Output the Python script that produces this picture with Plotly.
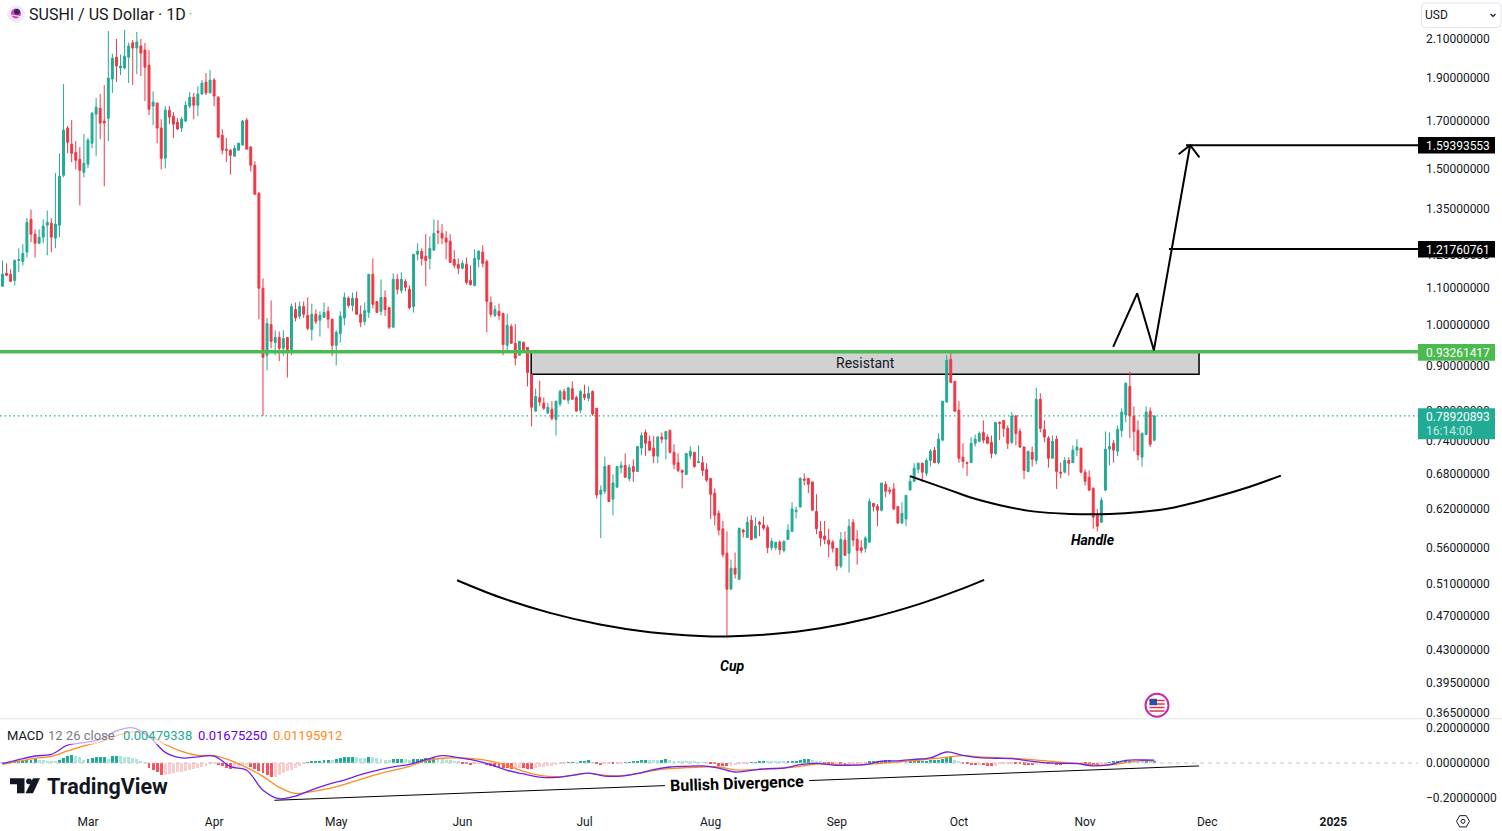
import math
import pandas as pd
import plotly.graph_objects as go

first_day = "2024-02-09"

opens = [
1.095,1.133,1.130,1.112,1.172,1.169,1.198,1.306,1.256,1.226,
1.246,1.286,1.293,1.243,1.286,1.467,1.661,1.592,1.558,1.530,
1.478,1.510,1.596,1.723,1.750,1.692,1.705,1.890,2.002,1.946,
1.946,2.002,2.079,2.051,2.062,2.040,1.960,1.760,1.774,1.661,
1.534,1.741,1.714,1.687,1.661,1.692,1.760,1.802,1.764,1.817,
1.875,1.822,1.885,1.802,1.630,1.571,1.567,1.542,1.567,1.588,
1.696,1.580,1.506,1.399,1.089,0.913,0.990,0.944,0.957,0.930,
0.957,0.923,1.030,1.012,1.038,1.014,0.977,1.017,1.001,1.009,
1.025,1.004,0.937,0.967,1.007,1.061,1.041,1.061,1.017,0.998,
1.022,1.130,1.052,1.025,1.063,1.035,0.983,1.115,1.083,1.109,
1.086,1.038,1.191,1.201,1.185,1.178,1.204,1.266,1.259,1.243,
1.233,1.175,1.160,1.148,1.160,1.112,1.097,1.175,1.198,1.169,
1.049,1.014,1.025,1.019,0.937,0.985,0.942,0.913,0.944,0.932,
0.868,0.788,0.817,0.805,0.784,0.792,0.771,0.803,0.830,0.811,
0.836,0.817,0.790,0.824,0.815,0.830,0.794,0.633,0.638,0.683,
0.625,0.645,0.679,0.683,0.660,0.681,0.672,0.715,0.745,0.728,
0.715,0.700,0.736,0.732,0.749,0.707,0.688,0.674,0.667,0.700,
0.707,0.688,0.688,0.676,0.660,0.635,0.602,0.578,0.542,0.493,
0.521,0.506,0.576,0.565,0.591,0.564,0.588,0.584,0.580,0.550,
0.550,0.558,0.546,0.562,0.574,0.605,0.612,0.659,0.660,0.654,
0.605,0.574,0.567,0.561,0.558,0.549,0.524,0.561,0.542,0.588,
0.562,0.550,0.549,0.558,0.618,0.613,0.607,0.650,0.640,0.642,
0.613,0.587,0.593,0.640,0.655,0.676,0.687,0.669,0.692,0.711,
0.688,0.730,0.807,0.903,0.852,0.790,0.698,0.688,0.688,0.724,
0.728,0.745,0.736,0.726,0.705,0.765,0.769,0.753,0.726,0.778,
0.747,0.717,0.672,0.707,0.692,0.813,0.751,0.734,0.696,0.732,
0.671,0.671,0.692,0.688,0.711,0.715,0.671,0.662,0.643,0.599,
0.588,0.640,0.713,0.724,0.709,0.749,0.780,0.841,0.778,0.749,
0.698,0.741,0.788,0.730]

highs = [
1.172,1.163,1.145,1.175,1.210,1.223,1.310,1.340,1.272,1.272,
1.306,1.337,1.310,1.475,1.554,1.865,1.670,1.696,1.605,1.580,
1.635,1.618,1.732,1.798,1.817,1.860,2.145,2.020,2.100,2.015,
2.151,2.080,2.095,2.140,2.100,2.079,2.040,1.830,1.774,1.700,
1.760,1.760,1.732,1.705,1.710,1.783,1.826,1.822,1.855,1.885,
1.920,1.935,1.895,1.807,1.657,1.618,1.571,1.588,1.596,1.696,
1.705,1.584,1.522,1.403,1.118,1.007,1.055,0.975,0.972,0.975,
0.957,1.046,1.049,1.052,1.052,1.063,1.046,1.030,1.025,1.049,
1.038,1.004,0.975,1.025,1.077,1.066,1.077,1.080,1.041,1.049,
1.130,1.178,1.052,1.115,1.083,1.038,1.133,1.130,1.136,1.115,
1.097,1.191,1.226,1.210,1.256,1.249,1.306,1.303,1.290,1.266,
1.256,1.204,1.178,1.172,1.181,1.157,1.207,1.204,1.220,1.175,
1.066,1.041,1.046,1.022,1.019,0.991,0.991,0.947,0.947,0.932,
0.868,0.836,0.854,0.817,0.805,0.809,0.809,0.834,0.836,0.838,
0.852,0.821,0.834,0.845,0.841,0.832,0.794,0.648,0.699,0.683,
0.667,0.681,0.690,0.705,0.685,0.694,0.718,0.745,0.751,0.739,
0.738,0.738,0.745,0.747,0.751,0.722,0.705,0.676,0.705,0.718,
0.707,0.720,0.700,0.687,0.660,0.643,0.607,0.590,0.574,0.533,
0.543,0.579,0.578,0.597,0.599,0.596,0.590,0.597,0.584,0.564,
0.558,0.561,0.561,0.585,0.620,0.613,0.662,0.669,0.660,0.654,
0.633,0.590,0.590,0.578,0.561,0.549,0.573,0.574,0.593,0.593,
0.576,0.561,0.567,0.626,0.618,0.617,0.652,0.655,0.645,0.652,
0.613,0.620,0.631,0.665,0.687,0.688,0.688,0.696,0.713,0.717,
0.743,0.809,0.913,0.918,0.854,0.809,0.724,0.690,0.736,0.741,
0.747,0.769,0.741,0.739,0.765,0.767,0.769,0.759,0.786,0.780,
0.753,0.718,0.709,0.718,0.838,0.826,0.769,0.738,0.739,0.739,
0.688,0.698,0.698,0.720,0.732,0.715,0.676,0.674,0.645,0.609,
0.628,0.747,0.745,0.730,0.759,0.794,0.850,0.875,0.798,0.769,
0.745,0.798,0.796,0.780]

lows = [
1.095,1.124,1.109,1.097,1.136,1.157,1.181,1.230,1.181,1.226,
1.226,1.188,1.198,1.210,1.246,1.459,1.554,1.518,1.490,1.355,
1.459,1.494,1.575,1.542,1.613,1.425,1.605,1.822,1.875,1.910,
1.940,1.870,1.860,1.915,1.905,1.783,1.719,1.674,1.596,1.490,
1.494,1.678,1.618,1.652,1.644,1.687,1.750,1.700,1.714,1.812,
1.812,1.822,1.760,1.618,1.550,1.518,1.470,1.542,1.567,1.588,
1.571,1.482,1.395,1.004,0.778,0.877,0.930,0.913,0.899,0.911,
0.861,0.913,0.998,1.004,1.007,0.975,0.949,0.991,0.959,1.009,
0.980,0.911,0.889,0.944,0.988,1.035,1.025,1.017,0.983,0.988,
1.007,1.033,1.022,1.014,1.012,0.978,0.983,1.072,1.075,1.080,
1.030,1.022,1.172,1.157,1.095,1.145,1.204,1.223,1.223,1.175,
1.166,1.148,1.130,1.145,1.100,1.097,1.095,1.151,1.151,0.970,
1.009,1.009,1.001,0.913,0.925,0.942,0.889,0.913,0.925,0.841,
0.757,0.788,0.798,0.790,0.782,0.769,0.739,0.798,0.811,0.803,
0.813,0.788,0.784,0.811,0.809,0.778,0.626,0.564,0.633,0.621,
0.599,0.645,0.669,0.662,0.655,0.654,0.672,0.702,0.700,0.709,
0.687,0.687,0.724,0.694,0.705,0.676,0.671,0.643,0.667,0.694,
0.679,0.688,0.664,0.654,0.593,0.583,0.568,0.536,0.436,0.493,
0.507,0.506,0.565,0.565,0.561,0.564,0.567,0.576,0.542,0.546,
0.546,0.540,0.543,0.562,0.574,0.594,0.612,0.648,0.635,0.607,
0.570,0.552,0.555,0.536,0.543,0.518,0.521,0.539,0.515,0.552,
0.526,0.542,0.543,0.558,0.605,0.582,0.605,0.628,0.633,0.607,
0.585,0.585,0.582,0.640,0.654,0.669,0.654,0.664,0.681,0.688,
0.685,0.728,0.807,0.850,0.786,0.688,0.678,0.664,0.688,0.718,
0.726,0.724,0.722,0.696,0.702,0.730,0.736,0.713,0.722,0.720,
0.715,0.659,0.672,0.681,0.685,0.745,0.726,0.679,0.696,0.642,
0.660,0.669,0.665,0.688,0.700,0.669,0.648,0.638,0.578,0.574,
0.588,0.638,0.683,0.688,0.700,0.736,0.765,0.734,0.709,0.692,
0.681,0.741,0.717,0.728]

closes = [
1.130,1.127,1.109,1.172,1.175,1.194,1.296,1.256,1.226,1.246,
1.283,1.296,1.246,1.290,1.463,1.652,1.600,1.554,1.526,1.486,
1.514,1.609,1.727,1.755,1.683,1.683,1.895,1.997,1.956,1.956,
2.007,2.062,2.051,2.084,2.024,1.950,1.745,1.779,1.661,1.534,
1.741,1.710,1.678,1.657,1.700,1.764,1.802,1.764,1.817,1.870,
1.822,1.885,1.807,1.622,1.567,1.567,1.546,1.575,1.596,1.692,
1.571,1.506,1.395,1.089,0.908,0.993,0.947,0.957,0.930,0.954,
0.927,1.038,1.007,1.038,1.017,0.980,1.017,0.998,1.014,1.022,
1.004,0.937,0.970,1.012,1.063,1.041,1.061,1.017,0.996,1.027,
1.130,1.044,1.022,1.063,1.030,0.983,1.115,1.086,1.115,1.092,
1.035,1.191,1.201,1.178,1.172,1.210,1.259,1.262,1.243,1.230,
1.166,1.157,1.148,1.163,1.106,1.100,1.178,1.201,1.163,1.052,
1.017,1.030,1.014,0.939,0.988,0.942,0.906,0.947,0.927,0.872,
0.796,0.819,0.807,0.794,0.796,0.773,0.809,0.830,0.813,0.838,
0.813,0.788,0.830,0.817,0.826,0.782,0.632,0.640,0.681,0.621,
0.652,0.681,0.683,0.662,0.679,0.672,0.718,0.739,0.724,0.711,
0.700,0.736,0.732,0.747,0.707,0.685,0.674,0.671,0.705,0.709,
0.681,0.690,0.674,0.657,0.633,0.599,0.576,0.540,0.493,0.521,
0.513,0.579,0.573,0.588,0.562,0.582,0.585,0.579,0.550,0.559,
0.558,0.547,0.559,0.576,0.609,0.607,0.660,0.657,0.650,0.607,
0.578,0.564,0.562,0.555,0.549,0.524,0.562,0.539,0.582,0.561,
0.546,0.546,0.564,0.621,0.613,0.607,0.652,0.638,0.638,0.609,
0.587,0.602,0.631,0.655,0.678,0.687,0.671,0.692,0.709,0.688,
0.732,0.809,0.901,0.850,0.788,0.696,0.690,0.687,0.724,0.732,
0.743,0.730,0.724,0.705,0.765,0.763,0.753,0.724,0.778,0.743,
0.717,0.674,0.709,0.694,0.813,0.753,0.736,0.696,0.728,0.672,
0.669,0.692,0.687,0.711,0.717,0.671,0.655,0.640,0.596,0.582,
0.623,0.713,0.718,0.711,0.751,0.786,0.848,0.778,0.747,0.702,
0.743,0.786,0.722,0.778]

# MACD histogram, thousandths
hist_milli = [
3,4,5,6,8,10,14,18,19,16,
14,11,8,7,18,26,40,44,40,32,
18,22,26,30,31,32,24,38,40,36,
34,30,26,20,12,3,-28,-40,-54,-70,
-68,-64,-60,-56,-52,-46,-40,-34,-28,-22,
-16,-10,-4,-12,-20,-28,-36,-30,-24,-18,
-12,-24,-36,-48,-60,-72,-84,-80,-70,-60,
-50,-40,-28,-16,-4,4,8,10,12,14,
18,16,22,26,30,32,34,30,28,26,
34,30,26,22,18,14,20,22,24,20,
16,20,22,24,26,27,28,24,20,18,
14,12,6,-4,-10,-12,-8,-6,-4,-14,
-18,-22,-26,-28,-30,-34,-32,-28,-32,-34,
-36,-28,-24,-22,-18,-16,-12,-6,-4,2,
4,3,6,10,14,4,-10,-12,-10,-8,
-9,-6,-4,2,4,8,10,14,16,15,
14,13,18,19,14,12,11,10,9,8,
6,4,2,1,-2,-10,-16,-17,-18,-16,
-12,-10,-6,-2,2,4,8,10,9,8,
7,6,5,6,8,12,14,20,22,14,
10,6,-4,-5,-6,-5,-8,-14,-8,-6,
-5,-4,-2,8,10,11,12,13,14,12,
10,9,8,10,11,11.5,12,12.5,13,14,
16,22,28,30,16,8,-2,-8,-12,-14,
-13,-15,-16,-17,-16,-8,-6,-5,-4,-8,
-10,-11,-14,-15,-6,-4,-3,-10,-6,-14,
-15,-4,-3.5,-3,-2.5,-2,-4,-8,-12,-18,
-10,-6,2,6,8,7,10,12,10,8,
6,8,6,7]

# MACD and signal lines, thousandths, read every fourth session plus the last one
line_sessions = list(range(0, 281, 4)) + [283]
macd_milli = [
-4,19,40,50,102,117,136,184,202,152,61,29,35,40,-21,-42,-156,-205,-190,-154,
-123,-98,-67,-42,-23,-8,19,42,31,15,-10,-42,-63,-81,-83,-71,-58,-75,-75,-60,
-38,-23,-19,-17,-29,-52,-42,-33,-29,-10,-2,-12,-13,-10,10,12,21,29,63,44,
31,27,25,12,2,-2,-4,-17,-10,15,17,16.75]
signal_milli = [
-8,10,27,38,69,98,121,156,179,159,106,67,44,42,15,-27,-77,-140,-175,-165,
-148,-123,-94,-65,-42,-19,13,27,29,23,10,-15,-48,-71,-79,-71,-60,-71,-73,-61,
-44,-33,-27,-23,-23,-40,-38,-35,-29,-19,-6,-8,-12,-8,-2,6,13,23,33,42,
35,31,27,21,13,4,-2,-10,-12,2,13,11.96]

price_ticks = [2.1,1.9,1.7,1.5,1.35,1.2,1.1,1.0,0.9,0.8,0.74,0.68,0.62,0.56,0.51,0.47,0.43,0.395,0.365]
macd_ticks = [0.2,0.0,-0.2]
macd_tick_labels = ["0.20000000","0.00000000","\u22120.20000000"]
month_ticks = ["2024-03-01","2024-04-01","2024-05-01","2024-06-01","2024-07-01","2024-08-01","2024-09-01","2024-10-01","2024-11-01","2024-12-01","2025-01-01"]
month_labels = ["Mar","Apr","May","Jun","Jul","Aug","Sep","Oct","Nov","Dec","<b>2025</b>"]

resistance = 0.93261417
target_mid = 1.21760761
target_top = 1.59393553
last_price = 0.78920893
resist_bottom = 0.8797

# Hand-drawn annotations: (days after first session, price or MACD value)
cup_days = [111.7,122.2,134.5,146.8,159.1,171.4,178,188.6,200.9,213.2,225.4,235.2,241.2]
cup_prices = [.5151,.4928,.4733,.4592,.4501,.4458,.4452,.4477,.4548,.4671,.4845,.5027,.5157]
handle_days = [223,232.8,237.7,245.1,253.2,262.3,272.1,279.5,286.8,296.7,305.3,314.1]
handle_prices = [.675,.651,.639,.626,.616,.612,.612,.615,.621,.637,.654,.676]
zig_days = [272.9,278.8,282.9,291.8]
zig_prices = [.944,1.085,.936,target_top]
arrow_days = [289.0,291.8,294.1]
arrow_prices = [1.557,target_top,1.544]
div_days_a = [66.8,162.8]
div_vals_a = [-.2144,-.130]
div_days_b = [198.2,294.0]
div_vals_b = [-.101,-.017]

UP = "#22ab94"; DOWN = "#f23645"; INK = "#131722"; GREEN = "#4cbb4f"
W, H = 1502, 831
H_MAP = 828.7   # rendered page height that paper fractions resolve against
PLOT_R = 1418
FONT = "Roboto"

# The candle readings were taken with a slightly coarse log ruler; this refines them onto the axis.
def refine(v):
    return 2.095 * (v / 2.095) ** 0.9857
opens = [refine(v) for v in opens]
highs = [refine(v) for v in highs]
lows = [refine(v) for v in lows]
closes = [refine(v) for v in closes]
closes[-1] = last_price

dates = pd.date_range(first_day, periods=len(closes), freq="D")
for name, arr in [("opens",opens),("highs",highs),("lows",lows),("hist",hist_milli)]:
    assert len(arr) == len(closes), (name, len(arr), len(closes))
assert len(macd_milli) == len(line_sessions), len(macd_milli)
assert len(signal_milli) == len(line_sessions), len(signal_milli)

def day(d):
    return pd.Timestamp(first_day) + pd.Timedelta(days=d)
def days(ds):
    return [day(d) for d in ds]
def X(p): return p / W
def Y(p): return 1 - p / H_MAP

# histogram colours follow TradingView's rising/falling rule
hist_vals = [v / 1000 for v in hist_milli]
hist_cols = []
for i, v in enumerate(hist_vals):
    prev = hist_vals[i-1] if i else 0
    if v >= 0:
        hist_cols.append("#22ab94" if v >= prev else "#ace5dc")
    else:
        hist_cols.append("#fccbcd" if v >= prev else "#f7525f")

x_start = day(-0.614)
x_end = day(347.8)

fig = go.Figure()
fig.add_trace(go.Candlestick(x=dates, open=opens, high=highs, low=lows, close=closes,
    xaxis="x", yaxis="y", whiskerwidth=0,
    increasing=dict(line=dict(color=UP, width=1), fillcolor=UP),
    decreasing=dict(line=dict(color=DOWN, width=1), fillcolor=DOWN),
    hoverinfo="skip", showlegend=False))

def line(x, y, color="#000000", width=2, axis="y", dash=None, shape="linear"):
    fig.add_trace(go.Scatter(x=x, y=y, mode="lines", xaxis="x" if axis == "y" else "x2", yaxis=axis,
        line=dict(color=color, width=width, dash=dash, shape=shape), hoverinfo="skip", showlegend=False))

line([x_start, x_end], [last_price]*2, color=UP, width=1.2, dash="1.5px,3px")
line([x_start, x_end], [resistance]*2, color=GREEN, width=3.5)
line(days(cup_days), cup_prices, width=2, shape="spline")
line(days(handle_days), handle_prices, width=2, shape="spline")
line(days(zig_days), zig_prices, width=2)
line(days(arrow_days), arrow_prices, width=2)
line([day(290.8), x_end], [target_top]*2, width=2)
line([day(286.6), x_end], [target_mid]*2, width=2)

# MACD pane
fig.add_trace(go.Bar(x=dates, y=hist_vals, marker=dict(color=hist_cols, line=dict(width=0)),
    width=86400000*0.72, xaxis="x2", yaxis="y2", hoverinfo="skip", showlegend=False))
line([x_start, x_end], [0, 0], color="#c4c6cc", width=1, axis="y2", dash="4px,4px")
line_dates = [dates[i] for i in line_sessions]
line(line_dates, [v/1000 for v in signal_milli], color="#ff8a1e", width=1.3, axis="y2", shape="spline")
line(line_dates, [v/1000 for v in macd_milli], color="#6a22f0", width=1.3, axis="y2", shape="spline")
line(days(div_days_a), div_vals_a, width=1, axis="y2")
line(days(div_days_b), div_vals_b, width=1, axis="y2")

shapes = []
# resistance box under the candles
shapes.append(dict(type="rect", xref="x", yref="y", x0=day(129.9), x1=day(294.0), y0=resist_bottom, y1=resistance,
    fillcolor="#d1d1d4", line=dict(color="#000000", width=1.5), layer="below"))
# pane separator
shapes.append(dict(type="line", xref="paper", yref="paper", x0=0, x1=1, y0=Y(718.5), y1=Y(718.5), line=dict(color="#e0e3eb", width=1)))
# legend veil
shapes.append(dict(type="rect", xref="paper", yref="paper", x0=X(0), x1=X(346), y0=Y(744), y1=Y(726), fillcolor="rgba(255,255,255,0.6)", line=dict(width=0)))
# price tags
def tag(y0, y1, col):
    shapes.append(dict(type="rect", xref="paper", yref="paper", x0=X(1418), x1=X(1495), y0=Y(y1), y1=Y(y0), fillcolor=col, line=dict(width=0)))
tag(137, 153.5, "#000000")
tag(241, 257.5, "#000000")
tag(344, 360.5, GREEN)
tag(408, 439, UP)
# USD select box
def rounded(x0, y0, x1, y1, r):
    p = lambda a, b: f"{X(a):.5f},{Y(b):.5f}"
    return (f"M{p(x0+r,y0)} L{p(x1-r,y0)} Q{p(x1,y0)} {p(x1,y0+r)} L{p(x1,y1-r)} Q{p(x1,y1)} {p(x1-r,y1)} "
            f"L{p(x0+r,y1)} Q{p(x0,y1)} {p(x0,y1-r)} L{p(x0,y0+r)} Q{p(x0,y0)} {p(x0+r,y0)} Z")
shapes.append(dict(type="path", xref="paper", yref="paper", path=rounded(1421.5, 3, 1501, 27.5, 4), fillcolor="#ffffff", line=dict(color="#e0e3eb", width=1)))
def poly(pts, fill=None, color=INK, width=1.2, close=False):
    path = "M" + " L".join(f"{X(a):.5f},{Y(b):.5f}" for a, b in pts) + (" Z" if close else "")
    shapes.append(dict(type="path", xref="paper", yref="paper", path=path, fillcolor=fill or "rgba(0,0,0,0)", line=dict(color=color, width=width)))
def circle(cx, cy, r, fill, color=None, width=0):
    shapes.append(dict(type="circle", xref="paper", yref="paper", x0=X(cx-r), x1=X(cx+r), y0=Y(cy+r), y1=Y(cy-r), fillcolor=fill, line=dict(color=color or fill, width=width)))
poly([(1490.5,14),(1493,16.5),(1495.5,14)])
# coin icon in the header
circle(16, 14, 9, "#eeeef9")
circle(16, 13.5, 5, "#d93fc0")
circle(17, 11.8, 2.8, "#2b2a4c")
poly([(11.5,15),(20,16.5)], color="#f7e9f7", width=1.2)
# TradingView logo
poly([(10,778),(24.5,778),(24.5,793),(17,793),(17,784),(10,784)], fill="#131722", color="#131722", width=0, close=True)
circle(29, 781, 2.9, "#131722")
poly([(33,778),(40,778),(33,793),(25.5,793)], fill="#131722", color="#131722", width=0, close=True)
# hexagon settings icon
hx, hy, hr = 1463, 821, 6.5
poly([(hx+hr*math.cos(math.radians(a)), hy+hr*math.sin(math.radians(a))) for a in range(0,360,60)], color=INK, width=1, close=True)
circle(hx, hy, 2, "#ffffff", INK, 1)
# flag badge
circle(1157, 705, 11.5, "#ffffff", "#c926a8", 2)
for sy in (699.5, 703, 706.5, 710):
    shapes.append(dict(type="rect", xref="paper", yref="paper", x0=X(1149.5), x1=X(1164.5), y0=Y(sy+1.5), y1=Y(sy), fillcolor="#e0314b", line=dict(width=0)))
shapes.append(dict(type="rect", xref="paper", yref="paper", x0=X(1149.5), x1=X(1157), y0=Y(705), y1=Y(698.5), fillcolor="#2c4fa3", line=dict(width=0)))

ann = []
def note(px, py, text, size=12, color=INK, anchor="left", **kw):
    font = dict(family=kw.pop("family", FONT), size=size, color=color)
    for k in ("weight", "style"):
        if k in kw:
            font[k] = kw.pop(k)
    ann.append(dict(xref="paper", yref="paper", x=X(px), y=Y(py), text=text, showarrow=False, xanchor=anchor, yanchor="middle", font=font, borderpad=0, **kw))

note(28, 14, "SUSHI / US Dollar \u00b7 1D", size=16)
note(188, 14, "\u00b7", size=12, color="#787b86")
note(1424, 15, "USD", size=12)
note(1425, 145.5, "1.59393553", color="#ffffff")
note(1425, 249.5, "1.21760761", color="#ffffff")
note(1425, 352.5, "0.93261417", color="#ffffff")
note(1425, 417, "0.78920893", color="#ffffff")
note(1425, 431, "16:14:00", color="#c3ebe3")
note(865, 363, "Resistant", size=14, anchor="center")
note(732, 666, "Cup", size=14, anchor="center", weight="bold", style="italic", color="#000000")
note(1092.5, 540, "Handle", size=14, anchor="center", weight="bold", style="italic", color="#000000")
note(737, 783, "Bullish Divergence", size=16, anchor="center", weight="bold", color="#000000", textangle=-2)
note(6, 735.5, "MACD", size=13)
note(47, 735.5, "12 26 close", size=13, color="#787b86")
note(122, 735.5, "0.00479338", size=13, color="#22ab94")
note(197, 735.5, "0.01675250", size=13, color="#6200ea")
note(272, 735.5, "0.01195912", size=13, color="#ff8a1e")
note(46, 786, "TradingView", size=21.5, weight="bold")

# 1 px = 1/385 of a natural-log unit on the price axis
y_top = 2.1 * math.exp(39 / 385)
y_bot = 2.1 * math.exp(-(718 - 39) / 385)

axis_font = dict(family=FONT, size=12, color=INK)
fig.update_layout(
    width=W, height=H, margin=dict(l=0, r=0, t=0, b=0),
    paper_bgcolor="#ffffff", plot_bgcolor="#ffffff", showlegend=False,
    boxgap=0.33, bargap=0, dragmode=False, hovermode=False,
    shapes=shapes, annotations=ann, font=dict(family=FONT),
    xaxis=dict(domain=[0, PLOT_R/W], anchor="y", type="date", range=[x_start, x_end], showgrid=False,
               zeroline=False, showticklabels=False, ticks="", rangeslider=dict(visible=False), fixedrange=True),
    xaxis2=dict(domain=[0, PLOT_R/W], anchor="y2", type="date", range=[x_start, x_end], showgrid=False,
                zeroline=False, tickmode="array", tickvals=month_ticks, ticktext=month_labels,
                ticks="", tickfont=axis_font, ticklabelstandoff=6, fixedrange=True),
    yaxis=dict(domain=[1 - 718/H_MAP, 1], anchor="x", side="right", type="log",
               range=[math.log10(y_bot), math.log10(y_top)], showgrid=False, zeroline=False,
               tickmode="array", tickvals=price_ticks, ticktext=[f"{v:.8f}" for v in price_ticks],
               ticks="", tickfont=axis_font, ticklabelstandoff=7, fixedrange=True),
    yaxis2=dict(domain=[1 - 807/H_MAP, 1 - 719/H_MAP], anchor="x2", side="right",
                range=[-0.2546, 0.2511], showgrid=False, zeroline=False,
                tickmode="array", tickvals=macd_ticks, ticktext=macd_tick_labels,
                ticks="", tickfont=axis_font, ticklabelstandoff=7, fixedrange=True),
)

fig.write_html("out.html", config={"displayModeBar": False},
               post_script="document.body.style.margin='0';document.body.style.overflow='hidden';")
